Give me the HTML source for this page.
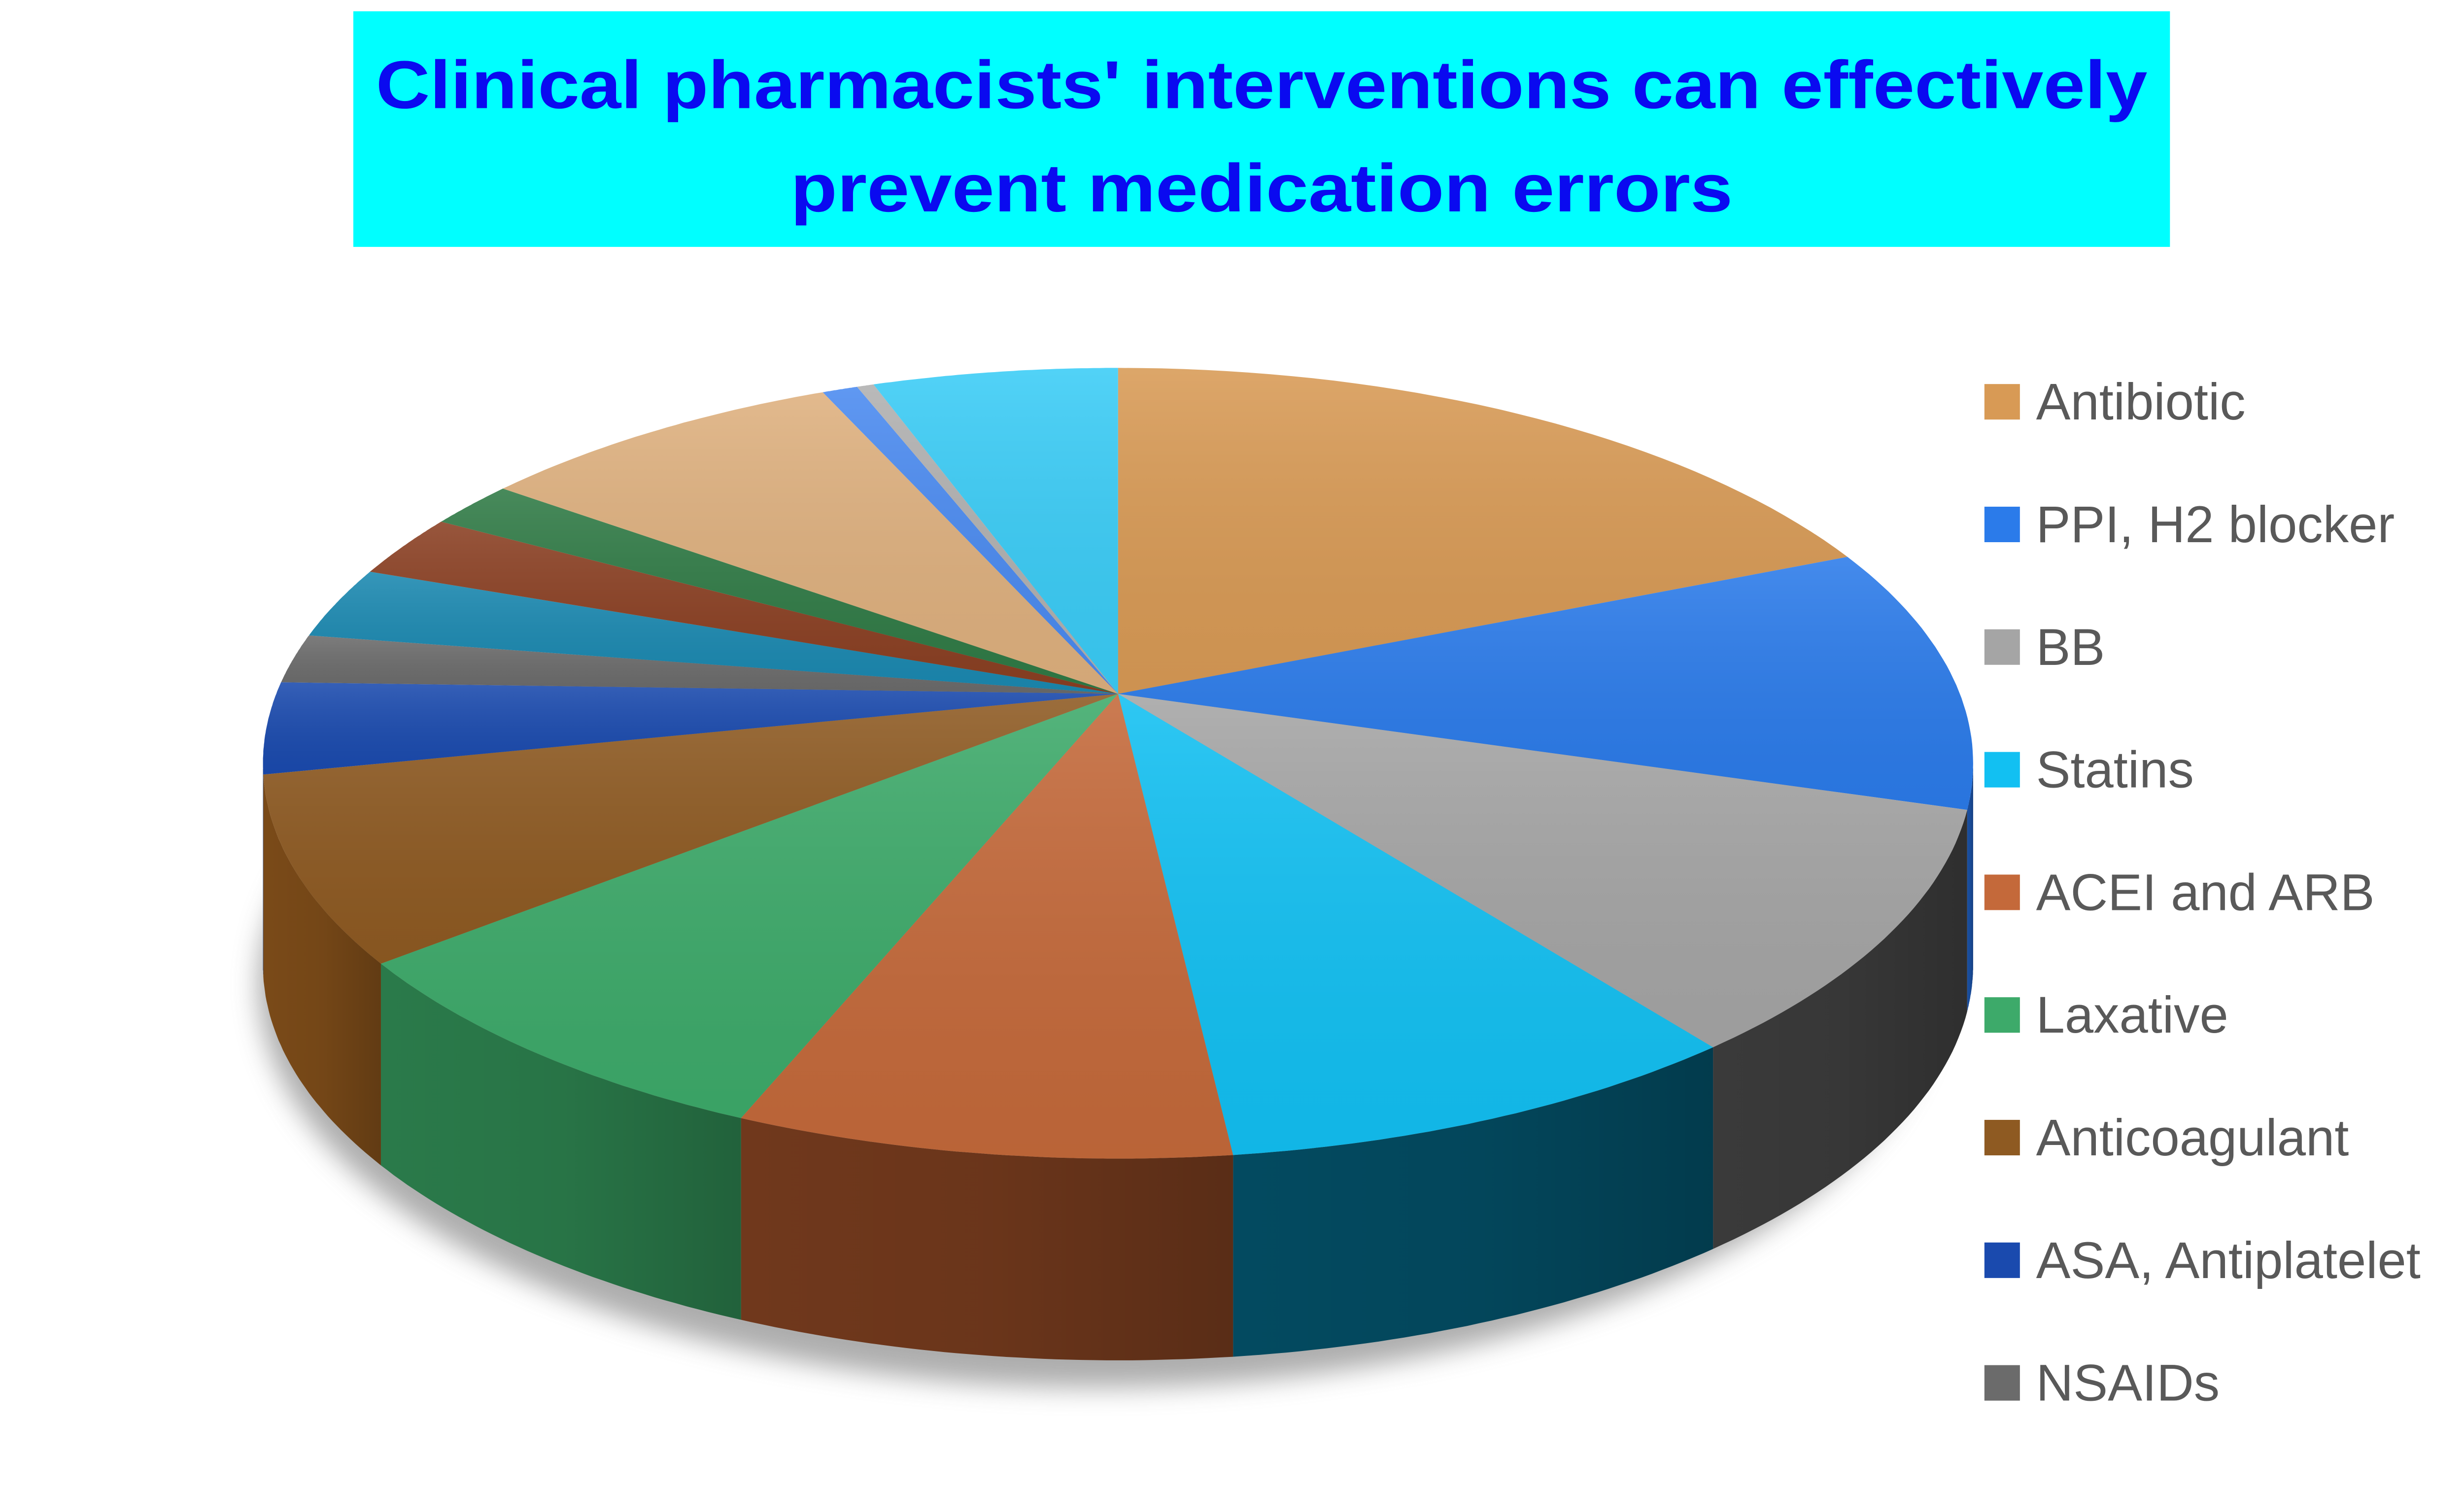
<!DOCTYPE html>
<html><head><meta charset="utf-8"><style>
html,body{margin:0;padding:0;background:#fff;}
svg{display:block;}
</style></head><body>
<svg id="s" width="5081" height="3025" viewBox="0 0 1552 924" preserveAspectRatio="none" xmlns="http://www.w3.org/2000/svg">
<defs>
<filter id="blur" x="-20%" y="-20%" width="140%" height="140%"><feGaussianBlur stdDeviation="8"/></filter>
<linearGradient id="topg" x1="0" y1="0" x2="0" y2="1">
<stop offset="0" stop-color="#fff" stop-opacity="0.12"/>
<stop offset="1" stop-color="#000" stop-opacity="0.05"/>
</linearGradient>
<linearGradient id="sideg" x1="0" y1="0" x2="1" y2="0">
<stop offset="0" stop-color="#000" stop-opacity="0"/>
<stop offset="0.5" stop-color="#000" stop-opacity="0.05"/>
<stop offset="1" stop-color="#000" stop-opacity="0.2"/>
</linearGradient>
</defs>
<rect x="0" y="0" width="1552" height="924" fill="#fff"/>
<rect x="219" y="7" width="1126" height="146" fill="#00FFFF"/>
<text x="782" y="67" text-anchor="middle" font-family="Liberation Sans, sans-serif" font-weight="bold" font-size="42" fill="#0A0AF0" textLength="1098" lengthAdjust="spacingAndGlyphs">Clinical pharmacists' interventions can effectively</text>
<text x="782" y="131" text-anchor="middle" font-family="Liberation Sans, sans-serif" font-weight="bold" font-size="42" fill="#0A0AF0" textLength="584" lengthAdjust="spacingAndGlyphs">prevent medication errors</text>
<ellipse cx="680" cy="610" rx="520" ry="250" fill="#777" opacity="0.6" filter="url(#blur)"/>
<g id="sides"></g>
<g id="tops"></g>
<g font-family="Liberation Sans, sans-serif" font-size="32" fill="#595959">
<rect x="1230" y="238" width="22" height="22" fill="#D89A55"/><text x="1262" y="260">Antibiotic</text>
<rect x="1230" y="314" width="22" height="22" fill="#2B7BEA"/><text x="1262" y="336">PPI, H2 blocker</text>
<rect x="1230" y="390" width="22" height="22" fill="#A5A5A5"/><text x="1262" y="412">BB</text>
<rect x="1230" y="466" width="22" height="22" fill="#12C0F2"/><text x="1262" y="488">Statins</text>
<rect x="1230" y="542" width="22" height="22" fill="#C4693A"/><text x="1262" y="564">ACEI and ARB</text>
<rect x="1230" y="618" width="22" height="22" fill="#3DAA6A"/><text x="1262" y="640">Laxative</text>
<rect x="1230" y="694" width="22" height="22" fill="#8E5A22"/><text x="1262" y="716">Anticoagulant</text>
<rect x="1230" y="770" width="22" height="22" fill="#1A4AAE"/><text x="1262" y="792">ASA, Antiplatelet</text>
<rect x="1230" y="846" width="22" height="22" fill="#6B6B6B"/><text x="1262" y="868">NSAIDs</text>
</g>
</svg>
<script>
(function(){
var CX=693,CY=473,RX=530,RY=245,AX=693,AY=430,D=125;
var pts=[[693,228],[1142,346],[1222,502],[1066,651],[765,718],[455,697],[233,598],[163,480],[166,422],[180,392],[232,355],[278,325],[312,303],[510,243],[530,238],[540,236],[693,228]];
var tops=["#D89A55","#2B7BEA","#A5A5A5","#12C0F2","#C4693A","#3DAA6A","#8E5A22","#1A4AAE","#6B6B6B","#1A88B0","#8A3F22","#2F7A45","#DEB07E","#4A8AF0","#B0B0B0","#3ACCF6"];
var sides=["#8a5a2a","#1a4fa0","#3A3A3A","#034A60","#70381C","#2A7A4A","#7A4A18","#0e2f70","#444","#0e5570","#5a2812","#1c4c2a","#9a7550","#2a5aa0","#777","#1a8aa8"];
function ang(p){var a=Math.atan2((p[0]-CX)/RX,-(p[1]-CY)/RY);if(a<0)a+=2*Math.PI;return a;}
var A=pts.map(ang);A[0]=0;A[A.length-1]=2*Math.PI;
function P(t,dy){return [CX+RX*Math.sin(t),CY-RY*Math.cos(t)+(dy||0)];}
var ns="http://www.w3.org/2000/svg",sg=document.getElementById("sides"),tg=document.getElementById("tops");
function add(g,d,f){var e=document.createElementNS(ns,"path");e.setAttribute("d",d);e.setAttribute("fill",f);g.appendChild(e);}
for(var i=0;i<tops.length;i++){
 var a0=A[i],a1=A[i+1],n=40,arc=[];
 for(var k=0;k<=n;k++)arc.push(P(a0+(a1-a0)*k/n));
 var d="M"+AX+","+AY+" L"+arc.map(function(p){return p[0].toFixed(1)+","+p[1].toFixed(1)}).join(" L")+" Z";
 add(tg,d,tops[i]);add(tg,d,"url(#topg)");
 var s0=Math.max(a0,Math.PI/2),s1=Math.min(a1,3*Math.PI/2);
 if(s1>s0){var up=[],dn=[];for(var k=0;k<=n;k++){var t=s0+(s1-s0)*k/n;up.push(P(t));dn.push(P(t,D));}
  var all=up.concat(dn.reverse());
  var sd="M"+all.map(function(p){return p[0].toFixed(1)+","+p[1].toFixed(1)}).join(" L")+" Z";
  add(sg,sd,sides[i]);add(sg,sd,"url(#sideg)");}
}
})();
</script>
</body></html>
